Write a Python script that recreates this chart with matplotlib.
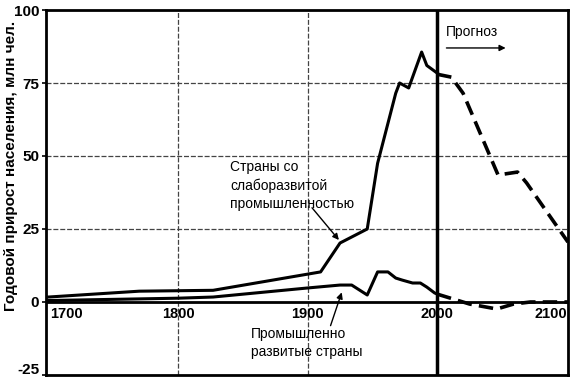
import matplotlib.pyplot as plt
import matplotlib.transforms as mtransforms

plt.rcParams['font.family'] = ['Liberation Sans', 'DejaVu Sans']

# developing countries (before forecast / forecast)
dev_years = [1700, 1770, 1827, 1910, 1925, 1946, 1954, 1968, 1971, 1978, 1988, 1992, 2000]
dev_vals = [1.7, 3.7, 4.0, 10.3, 20.2, 25.0, 47.5, 71.5, 75.0, 73.3, 85.6, 81.0, 78.4]
dev_fc_years = [2000, 2011, 2020, 2047, 2062, 2069, 2101]
dev_fc_vals = [78.0, 77.0, 71.5, 43.5, 44.5, 40.8, 20.5]

# industrialised countries
ind_years = [1700, 1800, 1827, 1900, 1925, 1934, 1946, 1954, 1962, 1968, 1973, 1981, 1987, 1992, 1998, 2000]
ind_vals = [0.5, 1.3, 1.7, 4.8, 5.8, 5.8, 2.4, 10.3, 10.3, 8.2, 7.5, 6.5, 6.5, 5.1, 3.1, 2.7]
ind_fc_years = [2000, 2025, 2046, 2059, 2072, 2101]
ind_fc_vals = [2.7, -0.7, -2.4, -0.7, 0.0, 0.0]

yticks = [-25, 0, 25, 50, 75, 100]
xlabels = [1700, 1800, 1900, 2000, 2100]

fig = plt.figure(figsize=(5.7, 3.79), dpi=100)
ax = fig.add_axes([0.0807, 0.0106, 0.9158, 0.963])
ax.set_xlim(1698, 2101)
ax.set_ylim(-25, 100)

grid_style = dict(color='#444444', lw=0.9, ls=(0, (4, 1.5)), zorder=1)
for y in [25, 50, 75]:
    ax.axhline(y, **grid_style)
for x in [1800, 1900]:
    ax.axvline(x, **grid_style)
ax.axhline(0, color='black', lw=2, zorder=2)
ax.axvline(2000, color='black', lw=2.5, zorder=2)

ax.plot(dev_years, dev_vals, color='black', lw=2.2, zorder=3)
ax.plot(dev_fc_years, dev_fc_vals, color='black', lw=2.6, ls=(0, (4, 2)), zorder=3)
ax.plot(ind_years, ind_vals, color='black', lw=2.2, zorder=3)
ax.plot(ind_fc_years, ind_fc_vals, color='black', lw=2.6, ls=(0, (4, 2)), zorder=3)

for s in ax.spines.values():
    s.set_linewidth(2)

ax.set_yticks(yticks)
ax.set_yticklabels([str(v) for v in yticks], fontsize=11, fontweight='bold')
ax.tick_params(axis='y', length=3, width=1.2, pad=2)
# lift the bottom label so it stays inside the figure
lbl = ax.get_yticklabels()[0]
lbl.set_transform(lbl.get_transform() + mtransforms.ScaledTranslation(0, 5/72, fig.dpi_scale_trans))
ax.set_xticks([])
ax.set_ylabel('Годовой прирост населения, млн чел.', fontsize=11, fontweight='bold')
ax.yaxis.set_label_coords(-0.054, 0.573)

for yr in xlabels:
    ha = 'center'
    xx = yr
    if yr == 1700:
        ha = 'left'
        xx = 1701
    elif yr == 2100:
        ha = 'right'
        xx = 2100
    ax.text(xx, -1.8, str(yr), ha=ha, va='top', fontsize=10.5, fontweight='bold', zorder=4)

ax.text(1840, 48.5, 'Страны со\nслаборазвитой\nпромышленностью', fontsize=10,
        ha='left', va='top', linespacing=1.35)
ax.annotate('', xy=(1925.5, 20.5), xytext=(1902, 33),
            arrowprops=dict(arrowstyle='-|>', color='black', lw=1, mutation_scale=9))

ax.text(1856, -8.5, 'Промышленно\nразвитые страны', fontsize=10, ha='left', va='top',
        linespacing=1.35)
ax.annotate('', xy=(1927, 4.2), xytext=(1917, -9),
            arrowprops=dict(arrowstyle='-|>', color='black', lw=1, mutation_scale=9))

ax.text(2007, 92.5, 'Прогноз', fontsize=10, ha='left', va='center')
ax.annotate('', xy=(2055, 87.0), xytext=(2005, 87.0),
            arrowprops=dict(arrowstyle='-|>', color='black', lw=1, mutation_scale=9))

fig.savefig('out.png', dpi=100)
